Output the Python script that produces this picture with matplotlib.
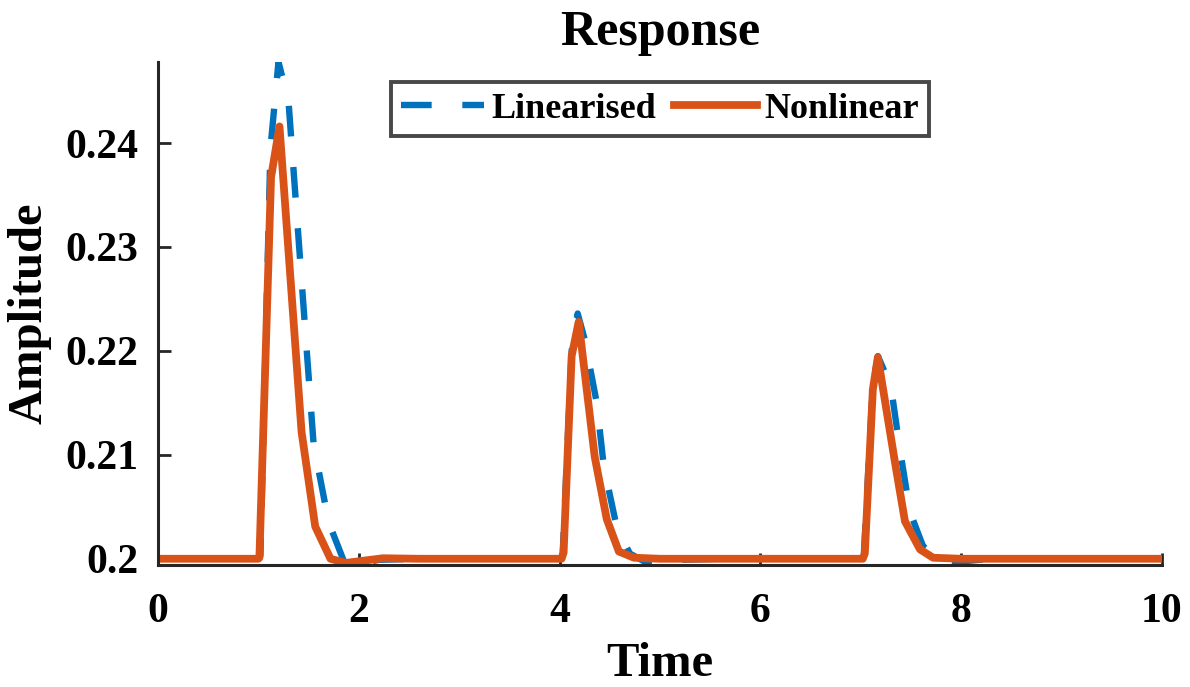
import matplotlib
matplotlib.use('Agg')
import matplotlib.pyplot as plt
from matplotlib.ticker import FixedLocator, FuncFormatter

# time / amplitude samples
tLin = [0.0, 1.0, 1.02, 1.12, 1.2, 1.3, 1.55, 1.7, 1.85, 1.95, 2.2, 2.6,
	4.0, 4.03, 4.12, 4.18, 4.25, 4.37, 4.44, 4.57, 4.7, 4.87, 5.2, 5.6,
	7.0, 7.03, 7.12, 7.17, 7.30, 7.39, 7.49, 7.62, 7.8, 7.95, 8.3, 10.0]
yLin = [0.2, 0.2, 0.2003, 0.2395, 0.2478, 0.2440, 0.2110, 0.2035, 0.1998, 0.1994, 0.1999, 0.2,
	0.2, 0.2003, 0.2200, 0.2236, 0.2211, 0.2150, 0.2089, 0.2030, 0.2005, 0.1996, 0.1999, 0.2,
	0.2, 0.2003, 0.2168, 0.2195, 0.2166, 0.2105, 0.2045, 0.2012, 0.1999, 0.1997, 0.2, 0.2]

tNon = [0.0, 1.0, 1.01, 1.126, 1.21, 1.43, 1.566, 1.718, 1.87, 2.24, 2.6,
	4.0, 4.02, 4.04, 4.12, 4.19, 4.35, 4.47, 4.59, 4.74, 5.0,
	7.0, 7.02, 7.04, 7.12, 7.17, 7.34, 7.44, 7.59, 7.72, 8.0, 10.0]
yNon = [0.2, 0.2, 0.2001, 0.2367, 0.2416, 0.2122, 0.2031, 0.2000, 0.1996, 0.20005, 0.2,
	0.2, 0.2, 0.2006, 0.2195, 0.2228, 0.2098, 0.2038, 0.2007, 0.2001, 0.2,
	0.2, 0.2, 0.2005, 0.2163, 0.2194, 0.2093, 0.2036, 0.2009, 0.2001, 0.2, 0.2]

xTicks = [0, 2, 4, 6, 8, 10]
yTicks = [0.2, 0.21, 0.22, 0.23, 0.24]

plt.rcParams['font.family'] = ['Liberation Serif', 'DejaVu Serif']
plt.rcParams['font.weight'] = 'bold'

fig = plt.figure(figsize=(11.9, 6.87), dpi=100)
ax = fig.add_axes([158 / 1190, 1 - 565 / 687, (1162 - 158) / 1190, (565 - 62) / 687])

ax.plot(tLin, yLin, color='#0072BD', linewidth=4.6, linestyle=(4.9, (4.8, 4.8)),
	dash_capstyle='butt', label='Linearised')
ax.plot(tNon, yNon, color='#D95319', linewidth=5.6, solid_joinstyle='round',
	label='Nonlinear')

ax.set_xlim(0, 10)
ax.set_ylim(min(yLin), max(yLin))
ax.xaxis.set_major_locator(FixedLocator(xTicks))
ax.yaxis.set_major_locator(FixedLocator(yTicks))
ax.yaxis.set_major_formatter(FuncFormatter(lambda v, p: '%g' % round(v, 4)))
ax.tick_params(direction='in', length=9, width=2, labelsize=30, colors='#262626',
	labelcolor='black')
ax.tick_params(axis='x', pad=20)
ax.tick_params(axis='y', pad=14)
for side in ['top', 'right']:
	ax.spines[side].set_visible(False)
for side in ['left', 'bottom']:
	ax.spines[side].set_linewidth(2.2)
	ax.spines[side].set_color('#262626')

ax.set_title('Response', fontsize=36, fontweight='bold', pad=12)
ax.set_xlabel('Time', fontsize=35, fontweight='bold', labelpad=8)
ax.set_ylabel('Amplitude', fontsize=35, fontweight='bold', labelpad=10)

leg = ax.legend(loc='upper center', bbox_to_anchor=(0.5, 0.96), ncol=2, fontsize=26,
	frameon=True, fancybox=False, handlelength=2.3, handletextpad=0.2, columnspacing=0.5,
	borderpad=0.28, borderaxespad=0)
leg.get_frame().set_edgecolor('#1a1a1a')
leg.get_frame().set_linewidth(2.8)
leg.get_lines()[0].set_linestyle((0, (4.8, 4.8)))

fig.savefig('out.png', dpi=100)
